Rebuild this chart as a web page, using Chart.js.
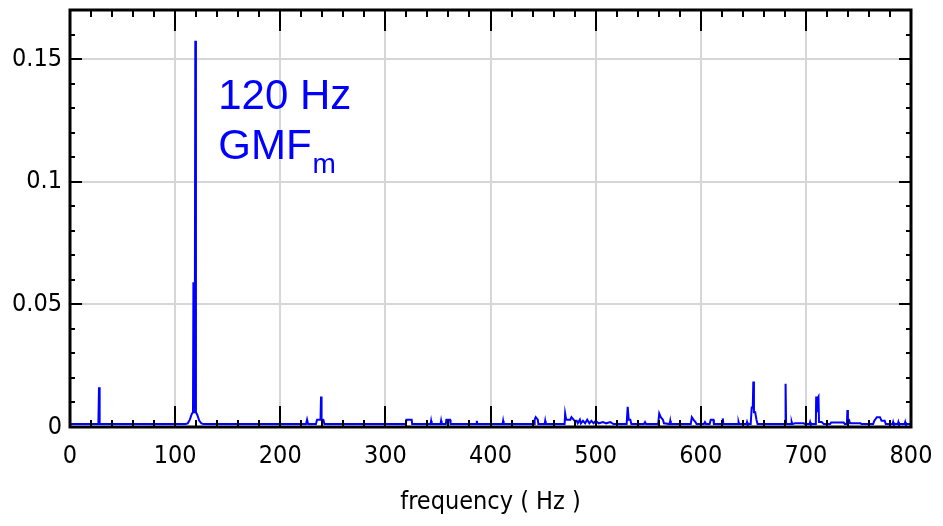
<!DOCTYPE html>
<html>
<head>
<meta charset="utf-8">
<script src="https://cdn.jsdelivr.net/npm/chart.js@4/dist/chart.umd.min.js"></script>
<style>
  html, body { margin: 0; padding: 0; background: #fff; }
  #wrap { width: 943px; height: 526px; position: relative; }
</style>
</head>
<body>
<div id="wrap"><canvas id="spectrum"></canvas></div>
<script>
// spectrum: frequency (Hz) and amplitude
const freqs = [
  0, 27, 27.6, 28.2,
  110, 112, 114, 116, 117, 117.4, 117.8, 118.6, 119.2, 119.8, 121, 123, 125, 127,
  224.5, 225.5, 226.5, 234, 235, 238.3, 238.8, 239.3, 241, 242,
  319.5, 320, 325, 325.5, 343, 343.5, 344, 352.5, 353, 353.5, 357.5, 358, 361.5, 362,
  386.5, 387, 387.5, 411.5, 412, 412.5,
  441.5, 442, 443, 445, 445.5, 451.5, 452, 452.5,
  470.5, 471, 472, 476, 477, 480, 482, 483, 485, 486, 488, 490, 492, 494, 496, 498, 500, 503, 507, 510, 514, 517,
  529.5, 530.5, 531.5, 533, 534, 546, 547, 548,
  559.5, 560.5, 562, 564, 565, 570.5, 571, 571.5,
  590.5, 591.5, 593, 595, 596, 603, 604, 605, 608.5, 609.5, 612, 612.5,
  620.5, 621, 621.5, 635.5, 636, 636.5, 643.5, 644, 644.5,
  647.5, 648.5, 649.5, 650, 650.6, 651.8, 653, 654,
  680.2, 680.7, 681.2, 686, 686.5, 687, 690, 698, 699, 703.5, 704, 704.5,
  709.5, 709.8, 710.5, 711.5, 712, 712.5, 715, 717,
  723, 724, 736, 737, 739, 739.5, 740, 741, 742, 752, 753,
  764, 765, 767.5, 770.5, 772, 775, 776,
  782.5, 783, 783.5, 787.5, 788, 788.5, 794, 794.5, 795, 800
];
const amps = [
  0.0012, 0.0012, 0.0162, 0.0012,
  0.0012, 0.0015, 0.003, 0.0055, 0.006, 0.059, 0.006, 0.006, 0.1575, 0.006, 0.005, 0.0025, 0.0015, 0.0012,
  0.0012, 0.003, 0.0012, 0.0012, 0.003, 0.003, 0.0124, 0.003, 0.003, 0.0012,
  0.0012, 0.003, 0.003, 0.0012, 0.0012, 0.0025, 0.0012, 0.0012, 0.0025, 0.0012, 0.0012, 0.003, 0.003, 0.0012,
  0.0012, 0.0025, 0.0012, 0.0012, 0.0025, 0.0012,
  0.0012, 0.003, 0.004, 0.003, 0.0012, 0.0012, 0.0025, 0.0012,
  0.0012, 0.0055, 0.003, 0.003, 0.004, 0.0025, 0.0025, 0.0015, 0.003, 0.0015, 0.0025, 0.0015, 0.003, 0.0015, 0.0025, 0.0015, 0.0025, 0.0015, 0.002, 0.0015, 0.002, 0.0012,
  0.0012, 0.0082, 0.003, 0.003, 0.0012, 0.0012, 0.002, 0.0012,
  0.0012, 0.0055, 0.004, 0.003, 0.0015, 0.0012, 0.0025, 0.0012,
  0.0012, 0.004, 0.003, 0.002, 0.0012, 0.0012, 0.002, 0.0012, 0.0012, 0.003, 0.003, 0.0012,
  0.0012, 0.0035, 0.0012, 0.0012, 0.002, 0.0012, 0.0012, 0.002, 0.0012,
  0.0012, 0.008, 0.008, 0.0185, 0.006, 0.006, 0.003, 0.0012,
  0.0012, 0.0176, 0.0012, 0.0012, 0.002, 0.0012, 0.0015, 0.0015, 0.0012, 0.0012, 0.002, 0.0012,
  0.0012, 0.0124, 0.006, 0.012, 0.0124, 0.002, 0.002, 0.0012,
  0.0012, 0.0018, 0.0018, 0.0012, 0.0012, 0.0069, 0.003, 0.003, 0.0015, 0.0015, 0.0012,
  0.0012, 0.0025, 0.004, 0.004, 0.0025, 0.0025, 0.0012,
  0.0012, 0.002, 0.0012, 0.0012, 0.002, 0.0012, 0.0012, 0.002, 0.0012, 0.0012
];

const xTicks = [0, 100, 200, 300, 400, 500, 600, 700, 800];
const yTicks = [0, 0.05, 0.1, 0.15];
const yTickLabels = ['0', '0.05', '0.1', '0.15'];
const xMinorStep = 20;
const yMinorStep = 0.01;

const BLUE = '#0000ff';
const NARROW = "'DejaVu Sans Condensed', 'DejaVu Sans', sans-serif";

// frame with inward tick marks on all four sides
const framePlugin = {
  id: 'frame',
  afterDatasetsDraw(chart) {
    const { ctx, chartArea: a, scales: { x, y } } = chart;
    ctx.save();
    ctx.strokeStyle = '#000';
    ctx.lineWidth = 2;
    ctx.beginPath();
    for (let f = 0; f <= x.max + 0.001; f += xMinorStep) {
      const px = Math.round(x.getPixelForValue(f));
      const len = f % 100 === 0 ? 21 : 7;
      ctx.moveTo(px, a.top); ctx.lineTo(px, a.top + len);
      ctx.moveTo(px, a.bottom); ctx.lineTo(px, a.bottom - len);
    }
    for (let i = 0; i <= 17; i++) {
      const v = i * yMinorStep;
      const py = Math.round(y.getPixelForValue(v));
      const len = i % 5 === 0 ? 12 : 5;
      ctx.moveTo(a.left, py); ctx.lineTo(a.left + len, py);
      ctx.moveTo(a.right, py); ctx.lineTo(a.right - len, py);
    }
    ctx.stroke();
    ctx.lineWidth = 3;
    ctx.strokeRect(a.left, a.top, a.right - a.left, a.bottom - a.top);
    ctx.restore();
  }
};

// peak label next to the 120 Hz line
const labelPlugin = {
  id: 'peakLabel',
  afterDraw(chart) {
    const { ctx, scales: { x, y } } = chart;
    const px = x.getPixelForValue(141);
    const py = y.getPixelForValue(0.1295);
    ctx.save();
    ctx.fillStyle = BLUE;
    ctx.textBaseline = 'alphabetic';
    ctx.font = "42px 'Liberation Sans', Arial, sans-serif";
    ctx.fillText('120 Hz', px, py);
    ctx.fillText('GMF', px, py + 50);
    const w = ctx.measureText('GMF').width;
    ctx.font = "28px 'Liberation Sans', Arial, sans-serif";
    ctx.fillText('m', px + w + 1, py + 64);
    ctx.restore();
  }
};

new Chart(document.getElementById('spectrum'), {
  type: 'line',
  data: {
    datasets: [{
      data: freqs.map((f, i) => ({ x: f, y: amps[i] })),
      borderColor: BLUE,
      borderWidth: 2,
      pointRadius: 0,
      tension: 0,
      fill: false
    }]
  },
  options: {
    responsive: true,
    maintainAspectRatio: false,
    animation: false,
    layout: { padding: { top: 10, right: 32, left: 0, bottom: 0 } },
    plugins: {
      legend: { display: false },
      tooltip: { enabled: false }
    },
    scales: {
      x: {
        type: 'linear',
        min: 0,
        max: 800,
        afterBuildTicks: (scale) => { scale.ticks = xTicks.map(v => ({ value: v })); },
        afterFit: (scale) => {
          scale.height = 99;
          scale.paddingLeft = 0;
          scale.paddingRight = 0;
        },
        ticks: {
          color: '#000',
          padding: 14,
          maxRotation: 0,
          font: { family: NARROW, size: 25 },
          callback: (v) => String(v)
        },
        grid: { color: '#d6d6d6', lineWidth: 2, drawTicks: false },
        border: { display: false },
        title: {
          display: true,
          text: 'frequency ( Hz )',
          color: '#000',
          font: { family: NARROW, size: 25 },
          padding: { top: 0, bottom: 9 }
        }
      },
      y: {
        min: 0,
        max: 0.17,
        afterBuildTicks: (scale) => { scale.ticks = yTicks.map(v => ({ value: v })); },
        afterFit: (scale) => {
          scale.width = 70;
          scale.paddingTop = 0;
          scale.paddingBottom = 0;
        },
        ticks: {
          color: '#000',
          padding: 8,
          font: { family: NARROW, size: 25 },
          callback: (v, i) => yTickLabels[i]
        },
        grid: { color: '#d6d6d6', lineWidth: 2, drawTicks: false },
        border: { display: false }
      }
    }
  },
  plugins: [framePlugin, labelPlugin]
});
</script>
</body>
</html>
